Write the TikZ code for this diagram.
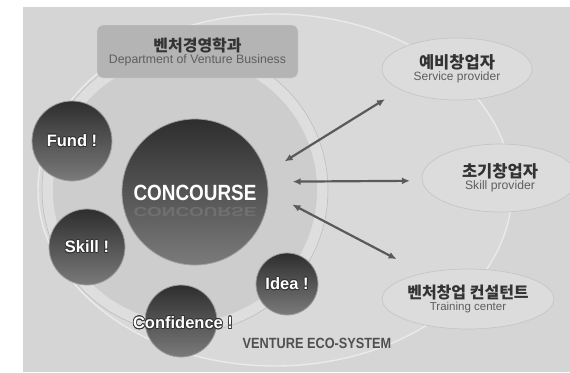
\documentclass[tikz,border=0pt]{standalone}
\usepackage{fontspec}
\usepackage{contour}
\usetikzlibrary{shapes.geometric,arrows.meta}
\setmainfont{Liberation Sans}
\newfontfamily\kr{Noto Sans CJK KR}
\newfontfamily\narrow[FakeStretch=0.86]{Liberation Sans}
\definecolor{bggray}{HTML}{D5D5D5}
\definecolor{ecofill}{HTML}{D9D9D9}
\definecolor{ecoline}{HTML}{EAEAEA}
\definecolor{ringfill}{HTML}{DEDEDE}
\definecolor{innerfill}{HTML}{CDCDCD}
\definecolor{deptfill}{HTML}{B4B4B4}
\definecolor{rolefill}{HTML}{DCDCDC}
\definecolor{arrowgray}{HTML}{5A5A5A}
\definecolor{titlegray}{HTML}{333333}
\definecolor{subgray}{HTML}{5E5E5E}
\definecolor{ecotext}{HTML}{505050}
\definecolor{mirrorgray}{HTML}{707070}
\contourlength{0.7pt}

\begin{document}
\begin{tikzpicture}[x=1pt,y=-1pt]
  \tikzstyle{orb} = [circle, draw=gray!75, line width=0.8pt, top color=black!82, bottom color=black!52, inner sep=0pt]
  \tikzstyle{orbtext} = [text=white, font=\bfseries\fontsize{16.5}{18}\selectfont]
  \tikzstyle{role} = [ellipse, draw=gray!45, fill=rolefill, line width=0.7pt, align=center, inner sep=0pt]
  \tikzstyle{link} = [{Latex[length=8pt,width=7pt]}-{Latex[length=8pt,width=7pt]}, line width=2.2pt, draw=arrowgray]

  \useasboundingbox (0,0) rectangle (570,372);
  \fill[bggray] (23,7) rectangle (570,372);

  \draw[ecoline, fill=ecofill, line width=1.4pt] (275,190) ellipse [x radius=237, y radius=176];
  \draw[gray!55, fill=ringfill, line width=0.5pt] (185,190) circle [radius=143];
  \fill[innerfill] (185,190) circle [radius=132];

  \node[draw=gray!30, fill=deptfill, rounded corners=6pt, minimum width=201pt, minimum height=53pt, align=center] (dept) at (197.5,51.5)
    {{\kr\bfseries\color{titlegray}\fontsize{16}{18}\selectfont 벤처경영학과}\\[0pt]
     {\color{subgray}\fontsize{12.3}{13}\selectfont Department of Venture Business}};

  \node[role, minimum width=150pt, minimum height=62pt] (svc) at (457,69)
    {{\kr\bfseries\color{titlegray}\fontsize{16.5}{17}\selectfont 예비창업자}\\
     {\color{subgray}\fontsize{12}{13}\selectfont Service provider}};
  \node[role, minimum width=156pt, minimum height=68pt] (skl) at (500,178)
    {{\kr\bfseries\color{titlegray}\fontsize{16.5}{17}\selectfont 초기창업자}\\
     {\color{subgray}\fontsize{12.2}{13}\selectfont Skill provider}};
  \node[role, minimum width=162pt, minimum height=60pt] (trn) at (468,299)
    {{\kr\bfseries\color{titlegray}\fontsize{16}{17}\selectfont 벤처창업 컨설턴트}\\
     {\color{subgray}\fontsize{11.5}{12}\selectfont Training center}};

  \node[orb, minimum size=80pt] (fund) at (72,141) {};
  \node[orbtext] (fundtext) at (fund) {\contour{black!80}{Fund !}};
  \node[orb, minimum size=76pt] (skill) at (87,247) {};
  \node[orbtext] (skilltext) at (skill) {\contour{black!80}{Skill !}};
  \node[orb, minimum size=146pt] (conc) at (195,192) {};
  \node[text=white, font=\narrow\bfseries\fontsize{22}{24}\selectfont] (conctext) at (195,193) {CONCOURSE};
  \node[text=mirrorgray, font=\narrow\bfseries\fontsize{22}{24}\selectfont] (concmirror) at (195,212) {\scalebox{1}[-0.6]{CONCOURSE}};
  \node[orb, minimum size=62pt] (idea) at (287,284) {};
  \node[orbtext] (ideatext) at (idea) {\contour{black!80}{Idea !}};
  \node[orb, minimum size=72pt] (conf) at (181,321) {};
  \node[orbtext] (conftext) at (183,323) {\contour{black!80}{Confidence !}};

  \node[text=ecotext, font=\narrow\bfseries\fontsize{14.8}{16}\selectfont] (eco) at (317,343) {VENTURE ECO-SYSTEM};

  \draw[link, shorten <=22pt, shorten >=18pt] (conc.15) -- (svc.200);
  \draw[link, shorten <=25pt, shorten >=12pt] (conc.8) -- (skl.182);
  \draw[link, shorten <=27pt, shorten >=30pt] (conc.0) -- (trn.150);
\end{tikzpicture}
\end{document}
